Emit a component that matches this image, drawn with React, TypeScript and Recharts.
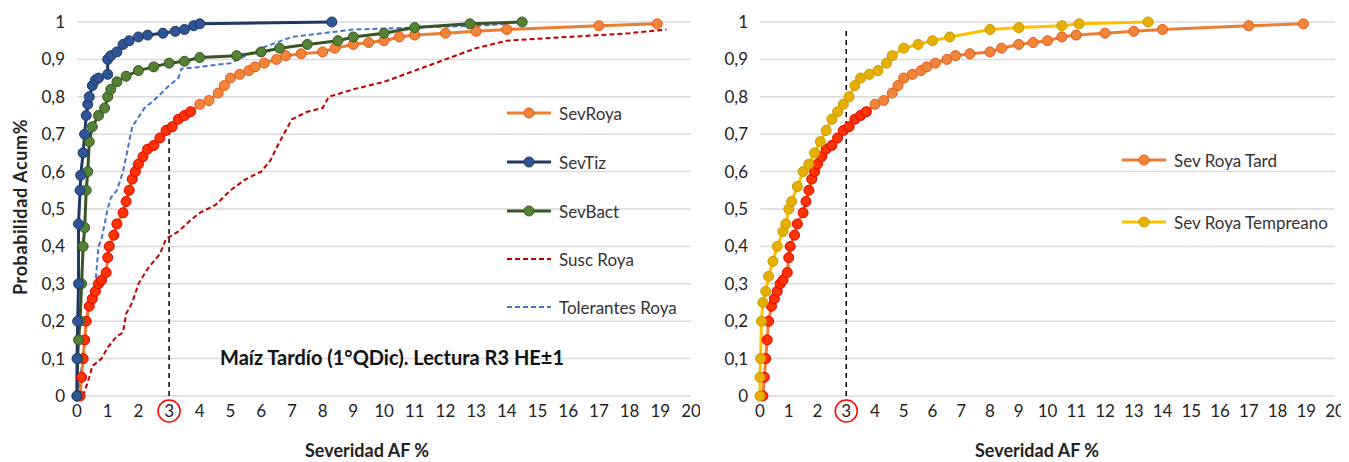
import React from "react";
import { LineChart, Line, XAxis, YAxis, CartesianGrid, ReferenceLine } from "recharts";

const xTicks = [0,1,2,3,4,5,6,7,8,9,10,11,12,13,14,15,16,17,18,19,20];
const yTicks = [0,0.1,0.2,0.3,0.4,0.5,0.6,0.7,0.8,0.9,1];

const rojaX = [0.1,0.15,0.2,0.25,0.3,0.4,0.5,0.6,0.7,0.8,0.95,1.0,1.05,1.2,1.3,1.5,1.6,1.7,1.8,1.9,2.0,2.15,2.3,2.5,2.7,2.9,3.1,3.3,3.5,3.7,4.0,4.3,4.6,4.8,5.0,5.3,5.6,5.8,6.1,6.5,6.8,7.3,8.0,8.4,9.0,9.5,10.0,10.5,11.0,12.0,13.0,14.0,17.0,18.9];
const rojaY = [0,0.05,0.1,0.15,0.2,0.24,0.26,0.28,0.3,0.31,0.33,0.37,0.4,0.43,0.46,0.49,0.52,0.55,0.58,0.6,0.62,0.64,0.66,0.67,0.69,0.71,0.72,0.74,0.75,0.76,0.78,0.79,0.81,0.83,0.85,0.86,0.87,0.88,0.89,0.9,0.91,0.915,0.92,0.93,0.94,0.945,0.95,0.96,0.965,0.97,0.975,0.98,0.99,0.995];
const tizX = [0,0,0.02,0.05,0.05,0.1,0.12,0.2,0.25,0.3,0.35,0.4,0.5,0.6,0.7,1.0,1.0,1.1,1.3,1.5,1.7,2.0,2.3,2.8,3.2,3.5,3.8,4.0,8.3];
const tizY = [0,0.1,0.2,0.3,0.46,0.55,0.59,0.65,0.7,0.75,0.78,0.8,0.83,0.845,0.85,0.86,0.9,0.91,0.92,0.94,0.95,0.96,0.965,0.97,0.975,0.98,0.99,0.995,1];
const bactX = [0,0.02,0.05,0.1,0.15,0.2,0.25,0.3,0.35,0.4,0.5,0.7,0.9,1.0,1.1,1.3,1.6,2.0,2.5,3.0,3.5,4.0,5.2,6.0,6.6,7.5,8.5,9.0,10.0,11.0,12.8,14.5];
const bactY = [0,0.1,0.15,0.2,0.3,0.4,0.45,0.55,0.6,0.68,0.72,0.75,0.77,0.8,0.82,0.84,0.855,0.87,0.88,0.89,0.895,0.905,0.91,0.92,0.93,0.94,0.95,0.96,0.97,0.985,0.995,1];
const tolX = [0.05,0.1,0.2,0.3,0.4,0.6,0.7,0.8,1.0,1.1,1.3,1.5,1.8,2.2,2.5,3.0,3.3,3.4,4.0,5.0,6.0,7.0,8.0,9.0,11,13,14];
const tolY = [0,0.05,0.1,0.2,0.27,0.3,0.4,0.42,0.5,0.53,0.55,0.6,0.72,0.77,0.79,0.83,0.85,0.875,0.88,0.89,0.93,0.96,0.97,0.98,0.985,0.99,0.995];
const suscX = [0.2,0.4,0.5,0.8,1.0,1.3,1.5,1.6,1.8,2.0,2.3,2.7,2.9,3.3,3.7,4.0,4.5,5.0,5.5,6.0,6.3,6.6,7.0,7.5,8.0,8.2,9,10,11,12,13,14,16,18,19.2];
const suscY = [0,0.05,0.08,0.1,0.13,0.16,0.17,0.22,0.25,0.3,0.34,0.38,0.42,0.44,0.47,0.49,0.51,0.55,0.58,0.6,0.63,0.68,0.74,0.76,0.77,0.8,0.82,0.84,0.87,0.9,0.93,0.95,0.96,0.97,0.98];
const tempX = [0,0,0.02,0.05,0.1,0.2,0.3,0.45,0.6,0.8,0.9,1.0,1.1,1.3,1.5,1.7,1.9,2.1,2.3,2.5,2.7,2.9,3.1,3.3,3.5,3.8,4.1,4.4,4.6,5.0,5.5,6.0,6.6,8.0,9.0,10.5,11.1,13.5];
const tempY = [0,0.05,0.1,0.2,0.25,0.28,0.32,0.36,0.4,0.44,0.46,0.5,0.52,0.56,0.6,0.62,0.65,0.68,0.71,0.74,0.76,0.78,0.8,0.83,0.85,0.86,0.87,0.89,0.91,0.93,0.94,0.95,0.96,0.98,0.985,0.99,0.995,1];

const mk = (xs: number[], ys: number[]) => xs.map((x, i) => ({ x, y: ys[i] }));
const roya = mk(rojaX, rojaY);
const tiz = mk(tizX, tizY);
const bact = mk(bactX, bactY);
const tol = mk(tolX, tolY);
const susc = mk(suscX, suscY);
const temp = mk(tempX, tempY);

const FONT = "Lato, 'Open Sans', sans-serif";

const XTick = (p: any) => {
  const v = p.payload.value;
  return (
    <g>
      <text x={p.x} y={p.y + 13} textAnchor="middle" fontSize={17} fill="#222" fontFamily={FONT}>{v}</text>
      {v === 3 && <circle cx={p.x} cy={p.y + 7} r={11} fill="none" stroke="#FF0000" strokeWidth={1.5} />}
    </g>
  );
};
const YTick = (p: any) => (
  <text x={p.x - 4} y={p.y + 6} textAnchor="end" fontSize={17} fill="#222" fontFamily={FONT}>
    {String(p.payload.value).replace(".", ",")}
  </text>
);

const royaDot = (p: any) => {
  const red = p.payload.y < 0.78;
  return <circle key={p.index} cx={p.cx} cy={p.cy} r={5} fill={red ? "#FF3300" : "#F0863A"} stroke={red ? "#E00000" : "#E8561E"} strokeWidth={1} />;
};
const dotOf = (fill: string, stroke: string) => (p: any) => (
  <circle key={p.index} cx={p.cx} cy={p.cy} r={5} fill={fill} stroke={stroke} strokeWidth={1} />
);

const axes = (yw: number) => [
  <CartesianGrid key="g" vertical={false} stroke="#D9D9D9" strokeWidth={1.5} />,
  <XAxis key="x" dataKey="x" type="number" domain={[0, 20]} ticks={xTicks} interval={0} axisLine={false} tickLine={false} tick={<XTick />} height={30} allowDuplicatedCategory={false} />,
  <YAxis key="y" type="number" domain={[0, 1]} ticks={yTicks} axisLine={false} tickLine={false} tick={<YTick />} width={yw} />,
];

const LegItem = ({ x, y, color, dash, dot, dotStroke, label }: any) => (
  <div style={{ position: "absolute", left: x, top: y - 12, display: "flex", alignItems: "center", fontFamily: FONT, fontSize: 17, color: "#333" }}>
    <svg width={50} height={24}>
      <line x1={2} y1={12} x2={46} y2={12} stroke={color} strokeWidth={dash ? 2 : 3} strokeDasharray={dash ? "5 3" : undefined} />
      {dot && <circle cx={24} cy={12} r={5} fill={dot} stroke={dotStroke} />}
    </svg>
    <span style={{ marginLeft: 4 }}>{label}</span>
  </div>
);

export default function App() {
  return (
    <div style={{ position: "relative", width: 1349, height: 462, margin: "-8px 0 0 -8px", background: "#fff" }}>
      <div style={{ position: "absolute", left: 0, top: 0 }}>
        <LineChart width={700} height={462} margin={{ top: 22, right: 9, left: 0, bottom: 36 }}>
          {axes(77)}
          <ReferenceLine segment={[{ x: 3, y: 0 }, { x: 3, y: 0.72 }]} stroke="#000" strokeDasharray="5 4" strokeWidth={1.5} />
          <Line data={susc} dataKey="y" stroke="#C00000" strokeWidth={2} strokeDasharray="5 3" dot={false} isAnimationActive={false} />
          <Line data={tol} dataKey="y" stroke="#4472C4" strokeWidth={2} strokeDasharray="5 3" dot={false} isAnimationActive={false} />
          <Line data={roya} dataKey="y" stroke="#ED7D31" strokeWidth={3} dot={royaDot} isAnimationActive={false} />
          <Line data={bact} dataKey="y" stroke="#375623" strokeWidth={3} dot={dotOf("#548235", "#375623")} isAnimationActive={false} />
          <Line data={tiz} dataKey="y" stroke="#1F3864" strokeWidth={3} dot={dotOf("#2F5597", "#1F3864")} isAnimationActive={false} />
        </LineChart>
      </div>
      <div style={{ position: "absolute", left: 690, top: 0 }}>
        <LineChart width={660} height={462} margin={{ top: 22, right: 15, left: 0, bottom: 36 }}>
          {axes(70)}
          <ReferenceLine segment={[{ x: 3, y: 0 }, { x: 3, y: 0.98 }]} stroke="#000" strokeDasharray="5 4" strokeWidth={1.5} />
          <Line data={roya} dataKey="y" stroke="#ED7D31" strokeWidth={3} dot={royaDot} isAnimationActive={false} />
          <Line data={temp} dataKey="y" stroke="#FFC000" strokeWidth={3} dot={dotOf("#E6B000", "#C99700")} isAnimationActive={false} />
        </LineChart>
      </div>
      <div style={{ position: "absolute", left: -100, top: 196, width: 240, textAlign: "center", transform: "rotate(-90deg)", fontFamily: FONT, fontWeight: 700, fontSize: 18, letterSpacing: 0.6, color: "#222" }}>Probabilidad Acum%</div>
      <div style={{ position: "absolute", left: 267, top: 439, width: 200, textAlign: "center", fontFamily: FONT, fontWeight: 700, fontSize: 18, color: "#222" }}>Severidad AF %</div>
      <div style={{ position: "absolute", left: 937, top: 439, width: 200, textAlign: "center", fontFamily: FONT, fontWeight: 700, fontSize: 18, color: "#222" }}>Severidad AF %</div>
      <div style={{ position: "absolute", left: 220, top: 345, fontFamily: FONT, fontWeight: 700, fontSize: 20, color: "#111" }}>Maíz Tardío (1°QDic). Lectura R3 HE±1</div>
      <LegItem x={505} y={113} color="#ED7D31" dot="#F0863A" dotStroke="#E8561E" label="SevRoya" />
      <LegItem x={505} y={162} color="#1F3864" dot="#2F5597" dotStroke="#1F3864" label="SevTiz" />
      <LegItem x={505} y={211} color="#375623" dot="#548235" dotStroke="#375623" label="SevBact" />
      <LegItem x={505} y={259} color="#C00000" dash label="Susc Roya" />
      <LegItem x={505} y={307} color="#4472C4" dash label="Tolerantes Roya" />
      <LegItem x={1120} y={160} color="#ED7D31" dot="#F0863A" dotStroke="#E8561E" label="Sev Roya Tard" />
      <LegItem x={1120} y={222} color="#FFC000" dot="#E6B000" dotStroke="#C99700" label="Sev Roya Tempreano" />
    </div>
  );
}
